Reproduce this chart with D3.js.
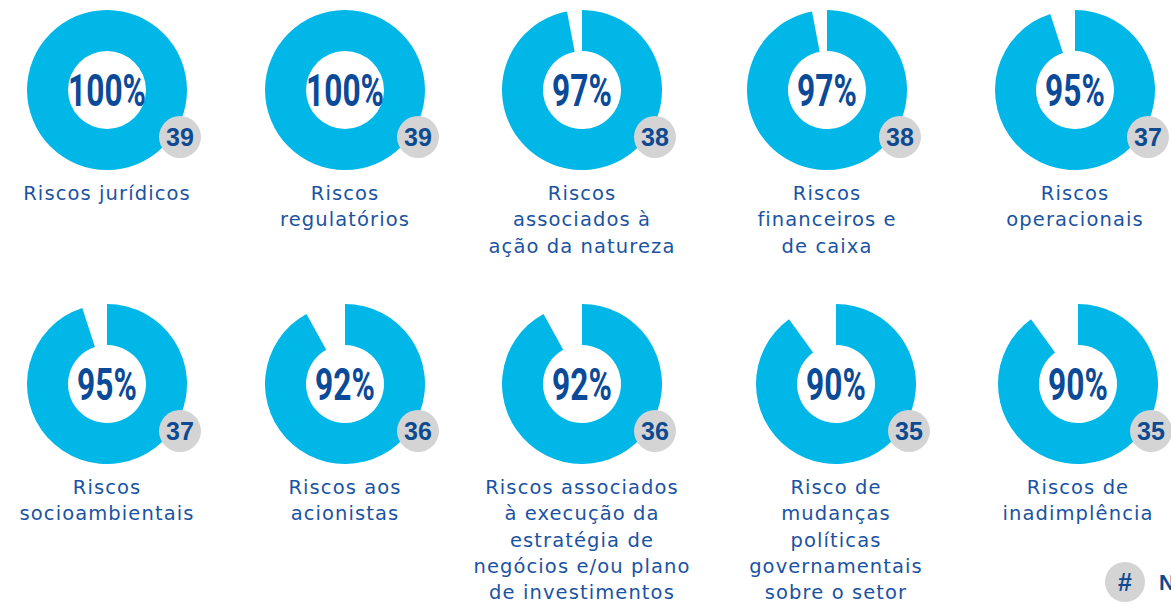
<!DOCTYPE html>
<html>
<head>
<meta charset="utf-8">
<script src="https://cdn.jsdelivr.net/npm/d3@7"></script>
<style>
  html, body { margin: 0; padding: 0; background: #fff; overflow: hidden; }
  .label { font-family: "DejaVu Sans", sans-serif; font-size: 19.5px; letter-spacing: 1.1px; fill: #1a53a2; }
  .pct { font-family: Roboto, sans-serif; font-weight: 700; font-size: 44px; fill: #0b4a98; }
  .count { font-family: "Liberation Sans", Arial, sans-serif; font-weight: 700; font-size: 25px; fill: #0d4a90; }
</style>
</head>
<body>
<svg id="chart"></svg>
<script>
// data
const categories = [
  ["Riscos jurídicos"],
  ["Riscos", "regulatórios"],
  ["Riscos", "associados à", "ação da natureza"],
  ["Riscos", "financeiros e", "de caixa"],
  ["Riscos", "operacionais"],
  ["Riscos", "socioambientais"],
  ["Riscos aos", "acionistas"],
  ["Riscos associados", "à execução da", "estratégia de", "negócios e/ou plano", "de investimentos"],
  ["Risco de", "mudanças", "políticas", "governamentais", "sobre o setor"],
  ["Riscos de", "inadimplência"]
];
const percents = [100, 100, 97, 97, 95, 95, 92, 92, 90, 90];
const counts = [39, 39, 38, 38, 37, 37, 36, 36, 35, 35];
const legendText = "Número de empresas";

// layout
const width = 1171, height = 606;
const colX = [[107, 345, 582, 827, 1075], [107, 345, 582, 836, 1078]];
const rowY = [90, 384];
const outerR = 80, innerR = 39;
const badgeR = 21, badgeDx = 73, badgeDy = 47;

const svg = d3.select("#chart")
    .attr("width", width)
    .attr("height", height);

const angle = d3.scaleLinear().domain([0, 100]).range([0, 2 * Math.PI]);

const arc = d3.arc()
    .innerRadius(innerR)
    .outerRadius(outerR)
    .startAngle(0)
    .endAngle(d => angle(d));

const items = percents.map((p, i) => ({
    pct: p,
    n: counts[i],
    lines: categories[i],
    x: colX[Math.floor(i / 5)][i % 5],
    y: rowY[Math.floor(i / 5)]
}));

const g = svg.selectAll("g.donut")
    .data(items)
    .join("g")
    .attr("class", "donut")
    .attr("transform", d => `translate(${d.x},${d.y})`);

g.append("path")
    .attr("d", d => arc(d.pct))
    .attr("fill", "#00b7e7");

g.append("text")
    .attr("class", "pct")
    .attr("text-anchor", "middle")
    .attr("dy", "0.36em")
    .attr("transform", "scale(0.72,1)")
    .text(d => d.pct + "%");

g.append("circle")
    .attr("cx", badgeDx)
    .attr("cy", badgeDy)
    .attr("r", badgeR)
    .attr("fill", "#d4d4d5");

g.append("text")
    .attr("class", "count")
    .attr("x", badgeDx)
    .attr("y", badgeDy)
    .attr("dy", "0.36em")
    .attr("text-anchor", "middle")
    .text(d => d.n);

g.append("text")
    .attr("class", "label")
    .attr("text-anchor", "middle")
    .selectAll("tspan")
    .data(d => d.lines)
    .join("tspan")
    .attr("x", 0)
    .attr("y", (d, i) => 110 + i * 26.3)
    .text(d => d);

// legend
const legend = svg.append("g").attr("transform", "translate(1125,582)");
legend.append("circle").attr("r", 20).attr("fill", "#d4d4d5");
legend.append("text")
    .attr("class", "count")
    .attr("text-anchor", "middle")
    .attr("dy", "0.36em")
    .text("#");
legend.append("text")
    .attr("class", "count")
    .attr("x", 34)
    .attr("dy", "0.36em")
    .style("font-size", "22px")
    .text(legendText);
</script>
</body>
</html>
